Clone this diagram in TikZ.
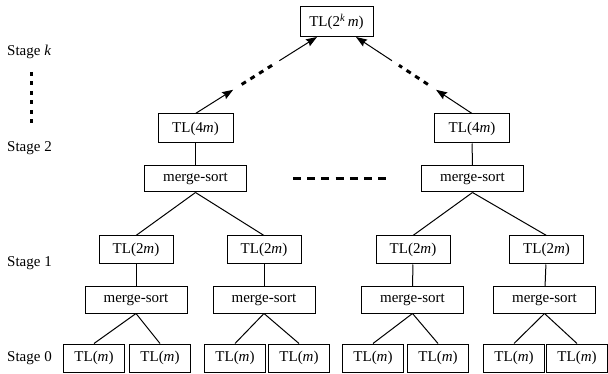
\documentclass[tikz,border=0pt]{standalone}
\usepackage{fontspec}
\setmainfont{Liberation Serif}
\usetikzlibrary{arrows.meta,calc}
\begin{document}
\begin{tikzpicture}[x=1pt,y=-1pt,
  every node/.style={font=\fontsize{15}{18}\selectfont},
  box/.style={draw,line width=1pt,inner sep=0pt,minimum height=#1},
  tlbox/.style={box=28pt,minimum width=74pt},
  msbox/.style={box=26pt,minimum width=102pt},
  leafbox/.style={box=28pt,minimum width=61pt},
  link/.style={line width=1pt},
  arr/.style={line width=1pt,-{Stealth[length=11pt,width=8pt,inset=1.5pt]}},
  dotted3/.style={line width=3pt,dash pattern=on 5pt off 5.3pt},
  lbl/.style={anchor=west,inner sep=0pt}]
\useasboundingbox (0,0) rectangle (608,374);

% stage labels
\node[lbl] (sk) at (7,52) {Stage \textit{k}};
\node[lbl] (s2) at (7,148) {Stage 2};
\node[lbl] (s1) at (7,263) {Stage 1};
\node[lbl] (s0) at (7,358) {Stage 0};
\coordinate (vd1) at (31,72);
\coordinate (vd2) at (31,124);
\draw[line width=3pt,dash pattern=on 4pt off 5.5pt] (vd1) -- (vd2);

% top
\node[box=30pt,minimum width=73pt] (top) at (336.5,22) {TL(2\textsuperscript{\textit{k}}\,\textit{m})};
\coordinate (ta) at (317,37);
\coordinate (tb) at (356,37);

% stage 2
\node[box=29pt,minimum width=75pt] (tlL) at (195.5,128.5) {TL(4\textit{m})};
\node[box=29pt,minimum width=75pt] (tlR) at (472,128.5) {TL(4\textit{m})};
\node[msbox] (msL) at (195.5,179) {merge-sort};
\node[msbox] (msR) at (472.5,179) {merge-sort};
\draw[link] (tlL) -- (msL);
\draw[link] (tlR) -- (msR);
\coordinate (hd1) at (293,179);
\coordinate (hd2) at (386,179);
\draw[line width=3pt,dash pattern=on 8pt off 6.2pt] (hd1) -- (hd2);

% arrows up
\draw[arr] (tlL.north) -- ($(tlL.north)!0.31!(ta)$);
\draw[dotted3] ($(tlL.north)!0.38!(ta)$) -- ($(tlL.north)!0.63!(ta)$);
\draw[arr] ($(tlL.north)!0.69!(ta)$) -- (ta);
\draw[arr] (tlR.north) -- ($(tlR.north)!0.31!(tb)$);
\draw[dotted3] ($(tlR.north)!0.38!(tb)$) -- ($(tlR.north)!0.63!(tb)$);
\draw[arr] ($(tlR.north)!0.69!(tb)$) -- (tb);

% stage 1
\node[tlbox] (t1) at (136,250) {TL(2\textit{m})};
\node[tlbox] (t2) at (264,250) {TL(2\textit{m})};
\node[tlbox] (t3) at (413,250) {TL(2\textit{m})};
\node[tlbox] (t4) at (546.5,250) {TL(2\textit{m})};
\draw[link] (msL.south) -- (t1.north);
\draw[link] (msL.south) -- (t2.north);
\draw[link] (msR.south) -- (t3.north);
\draw[link] (msR.south) -- (t4.north);

\node[msbox] (m1) at (136,300) {merge-sort};
\node[msbox] (m2) at (264,300) {merge-sort};
\node[msbox] (m3) at (412.5,300) {merge-sort};
\node[msbox] (m4) at (544.5,300) {merge-sort};
\foreach \i in {1,...,4} {\draw[link] (t\i) -- (m\i);}

% stage 0
\node[leafbox] (l1) at (94,358) {TL(\textit{m})};
\node[leafbox] (l2) at (160,358) {TL(\textit{m})};
\node[leafbox] (l3) at (235,358) {TL(\textit{m})};
\node[leafbox] (l4) at (299,358) {TL(\textit{m})};
\node[leafbox] (l5) at (373,358) {TL(\textit{m})};
\node[leafbox] (l6) at (438,358) {TL(\textit{m})};
\node[leafbox] (l7) at (514,358) {TL(\textit{m})};
\node[leafbox] (l8) at (577,358) {TL(\textit{m})};
\draw[link] (m1.south) -- (l1.north);
\draw[link] (m1.south) -- (l2.north);
\draw[link] (m2.south) -- (l3.north);
\draw[link] (m2.south) -- (l4.north);
\draw[link] (m3.south) -- (l5.north);
\draw[link] (m3.south) -- (l6.north);
\draw[link] (m4.south) -- (l7.north);
\draw[link] (m4.south) -- (l8.north);
\end{tikzpicture}
\end{document}
